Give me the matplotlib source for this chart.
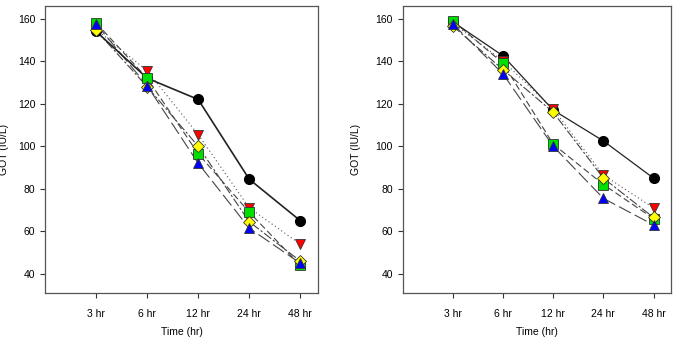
import numpy as np
import matplotlib.pyplot as plt

# time points (categorical)
times = ['3 hr', '6 hr', '12 hr', '24 hr', '48 hr']

# left panel GOT (IU/L)
left_black = [154, 132, 122, 84.5, 65]
left_red = [155, 135.5, 105.5, 71, 54]
left_green = [158, 132, 96.5, 69, 44]
left_yellow = [154.5, 128, 100, 64.5, 46]
left_blue = [157.5, 128.5, 92, 61.5, 45]

# right panel GOT (IU/L)
right_black = [158.5, 142.5, 117, 102.5, 85]
right_red = [158, 140, 117.5, 86.5, 71]
right_green = [159, 139, 101, 82, 66]
right_yellow = [156.5, 136, 116, 85, 66.5]
right_blue = [157.5, 134, 100, 75.5, 63]

plt.rcParams['font.family'] = ['Liberation Sans', 'DejaVu Sans']

styles = [
    # (face colour, marker, linestyle, line colour, lw)
    ('#ff0000', 'v', (0, (1, 2.5)), '#555555', 0.8),
    ('#00e000', 's', (0, (6, 3)), '#444444', 0.8),
    ('#ffff00', 'D', (0, (8, 2, 2, 2)), '#444444', 0.8),
    ('#0000ff', '^', (0, (12, 4)), '#444444', 0.8),
]

fig = plt.figure(figsize=(6.76, 3.41), dpi=100)
ax1 = fig.add_axes([0.0666, 0.1408, 0.404, 0.842])
ax2 = fig.add_axes([0.5957, 0.1408, 0.397, 0.842])

x = np.arange(1, len(times) + 1)

for ax, black, others, lx in [
        (ax1, left_black, [left_red, left_green, left_yellow, left_blue], -0.132),
        (ax2, right_black, [right_red, right_green, right_yellow, right_blue], -0.156)]:
    for vals, (fc, mk, ls, lc, lw) in zip(others, styles):
        ax.plot(x, vals, linestyle=ls, color=lc, linewidth=lw, zorder=2)
    ax.plot(x, black, '-', color='#222222', linewidth=1.2 if ax is ax1 else 0.9, zorder=2)
    ax.plot(x, black, 'o', markerfacecolor='black', markeredgecolor='black',
            markersize=7, linestyle='none', zorder=3)
    for vals, (fc, mk, ls, lc, lw) in zip(others, styles):
        ms = 6 if mk == 'D' else 7
        ax.plot(x, vals, mk, markerfacecolor=fc, markeredgecolor='#333333',
                markeredgewidth=0.6, markersize=ms, linestyle='none', zorder=3)

    ax.set_xlim(0, 5.35)
    ax.set_ylim(31, 166)
    ax.set_xticks(x)
    ax.set_xticklabels(times)
    ax.set_yticks(np.arange(40, 161, 20))
    ax.tick_params(axis='both', labelsize=7.5, direction='out', length=3.5,
                   width=0.8, color='#333333')
    ax.tick_params(axis='x', pad=8)
    ax.set_xlabel('Time (hr)', fontsize=7.5, labelpad=6)
    ax.set_ylabel('GOT (IU/L)', fontsize=7.5)
    ax.yaxis.set_label_coords(lx, 0.5)
    for sp in ax.spines.values():
        sp.set_color('#555555')
        sp.set_linewidth(0.9)

fig.savefig('out.png', dpi=100)
